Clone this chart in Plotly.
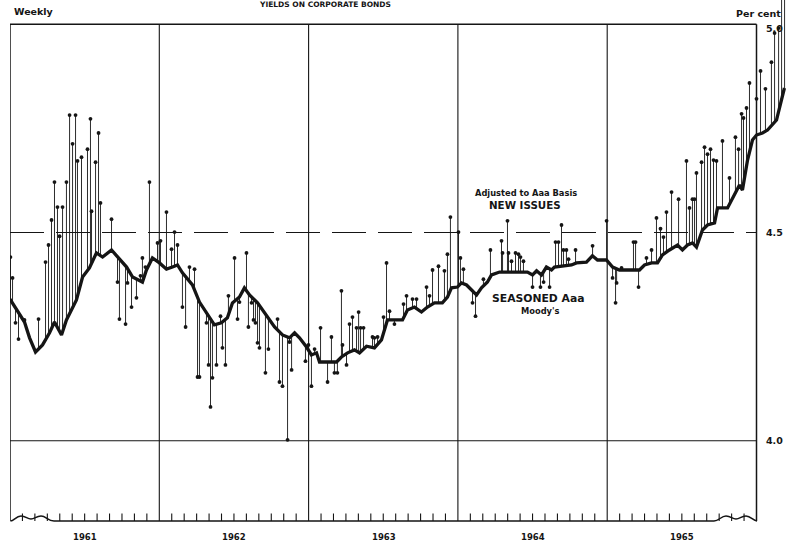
import numpy as np
import plotly.graph_objects as go

# ---------------- data ----------------
# Moody's seasoned Aaa corporate bond yield (weekly), per cent
seasoned_date = [
    1961.000, 1961.044, 1961.097, 1961.131, 1961.171, 1961.218, 1961.265, 1961.298, 1961.318, 1961.345,
    1961.378, 1961.445, 1961.486, 1961.532, 1961.579, 1961.620, 1961.680, 1961.720, 1961.781, 1961.821,
    1961.887, 1961.914, 1961.954, 1962.001, 1962.048, 1962.088, 1962.122, 1962.155, 1962.222, 1962.269,
    1962.316, 1962.369, 1962.416, 1962.456, 1962.490, 1962.537, 1962.570, 1962.604, 1962.658, 1962.705,
    1962.772, 1962.825, 1962.872, 1962.906, 1962.939, 1962.986, 1963.019, 1963.053, 1963.073, 1963.187,
    1963.220, 1963.261, 1963.307, 1963.341, 1963.388, 1963.441, 1963.488, 1963.528, 1963.629, 1963.662,
    1963.709, 1963.756, 1963.796, 1963.843, 1963.896, 1963.930, 1963.957, 1963.997, 1964.024, 1964.058,
    1964.091, 1964.125, 1964.158, 1964.198, 1964.225, 1964.279, 1964.466, 1964.500, 1964.527, 1964.560,
    1964.593, 1964.627, 1964.647, 1964.761, 1964.794, 1964.861, 1964.901, 1964.935, 1964.995, 1965.036,
    1965.082, 1965.216, 1965.250, 1965.297, 1965.337, 1965.370, 1965.417, 1965.471, 1965.504, 1965.538,
    1965.571, 1965.598, 1965.638, 1965.672, 1965.719, 1965.739, 1965.806, 1965.839, 1965.886, 1965.906,
    1965.940, 1965.973, 1966.000, 1966.040, 1966.074, 1966.134, 1966.187,
]
seasoned_yield = [
    4.340, 4.314, 4.285, 4.247, 4.213, 4.230, 4.259, 4.285, 4.273, 4.254,
    4.290, 4.338, 4.393, 4.415, 4.451, 4.441, 4.458, 4.441, 4.417, 4.393,
    4.381, 4.410, 4.439, 4.427, 4.412, 4.417, 4.422, 4.403, 4.374, 4.333,
    4.307, 4.278, 4.283, 4.295, 4.331, 4.345, 4.367, 4.350, 4.331, 4.307,
    4.273, 4.254, 4.247, 4.259, 4.247, 4.225, 4.206, 4.211, 4.189, 4.189,
    4.201, 4.211, 4.218, 4.211, 4.227, 4.223, 4.242, 4.290, 4.290, 4.314,
    4.321, 4.309, 4.321, 4.331, 4.331, 4.345, 4.367, 4.369, 4.379, 4.374,
    4.362, 4.350, 4.367, 4.381, 4.398, 4.405, 4.405, 4.398, 4.408, 4.398,
    4.417, 4.410, 4.417, 4.422, 4.427, 4.429, 4.444, 4.434, 4.434, 4.417,
    4.410, 4.410, 4.422, 4.427, 4.427, 4.446, 4.458, 4.470, 4.458, 4.470,
    4.475, 4.465, 4.506, 4.518, 4.523, 4.559, 4.559, 4.583, 4.614, 4.602,
    4.674, 4.722, 4.734, 4.739, 4.746, 4.770, 4.847,
]

# New issues, adjusted to Aaa basis (weekly), per cent
new_date = [
    1961.003, 1961.017, 1961.037, 1961.057, 1961.097, 1961.191, 1961.238, 1961.258, 1961.278, 1961.298,
    1961.318, 1961.332, 1961.352, 1961.378, 1961.399, 1961.419, 1961.439, 1961.452, 1961.479, 1961.519,
    1961.539, 1961.546, 1961.573, 1961.593, 1961.606, 1961.680, 1961.720, 1961.733, 1961.774, 1961.787,
    1961.814, 1961.847, 1961.874, 1961.887, 1961.907, 1961.934, 1961.988, 1962.008, 1962.048, 1962.082,
    1962.102, 1962.122, 1962.155, 1962.176, 1962.202, 1962.236, 1962.256, 1962.269, 1962.316, 1962.330,
    1962.343, 1962.356, 1962.383, 1962.410, 1962.423, 1962.443, 1962.463, 1962.504, 1962.524, 1962.537,
    1962.584, 1962.597, 1962.618, 1962.631, 1962.644, 1962.658, 1962.671, 1962.711, 1962.731, 1962.792,
    1962.805, 1962.825, 1962.859, 1962.872, 1962.886, 1962.979, 1962.999, 1963.019, 1963.040, 1963.080,
    1963.127, 1963.153, 1963.173, 1963.193, 1963.220, 1963.227, 1963.254, 1963.274, 1963.294, 1963.321,
    1963.335, 1963.348, 1963.368, 1963.428, 1963.441, 1963.462, 1963.502, 1963.522, 1963.542, 1963.575,
    1963.636, 1963.656, 1963.696, 1963.723, 1963.790, 1963.810, 1963.830, 1963.870, 1963.910, 1963.930,
    1963.950, 1964.004, 1964.017, 1964.037, 1964.098, 1964.118, 1964.171, 1964.218, 1964.292, 1964.299,
    1964.332, 1964.339, 1964.359, 1964.386, 1964.406, 1964.419, 1964.439, 1964.500, 1964.553, 1964.574,
    1964.614, 1964.654, 1964.674, 1964.694, 1964.707, 1964.727, 1964.741, 1964.788, 1964.902, 1964.996,
    1965.036, 1965.056, 1965.063, 1965.096, 1965.176, 1965.190, 1965.210, 1965.263, 1965.297, 1965.330,
    1965.357, 1965.377, 1965.397, 1965.431, 1965.478, 1965.531, 1965.551, 1965.571, 1965.585, 1965.598,
    1965.632, 1965.652, 1965.672, 1965.692, 1965.712, 1965.732, 1965.772, 1965.819, 1965.859, 1965.880,
    1965.900, 1965.913, 1965.933, 1965.953, 1966.000, 1966.027, 1966.060, 1966.100, 1966.121, 1966.148,
    1966.168, 1966.188,
]
new_yield = [
    4.441, 4.391, 4.283, 4.244, 4.290, 4.292, 4.429, 4.470, 4.530, 4.621,
    4.561, 4.491, 4.561, 4.621, 4.782, 4.713, 4.782, 4.672, 4.681, 4.700,
    4.773, 4.551, 4.669, 4.739, 4.571, 4.532, 4.381, 4.292, 4.280, 4.379,
    4.321, 4.343, 4.396, 4.439, 4.417, 4.621, 4.475, 4.480, 4.549, 4.460,
    4.501, 4.470, 4.321, 4.273, 4.417, 4.412, 4.153, 4.153, 4.283, 4.182,
    4.081, 4.151, 4.182, 4.299, 4.223, 4.182, 4.348, 4.439, 4.292, 4.333,
    4.451, 4.273, 4.331, 4.290, 4.283, 4.235, 4.223, 4.163, 4.220, 4.292,
    4.141, 4.131, 4.002, 4.237, 4.170, 4.191, 4.230, 4.131, 4.220, 4.271,
    4.141, 4.249, 4.163, 4.163, 4.360, 4.230, 4.182, 4.280, 4.297, 4.271,
    4.309, 4.271, 4.271, 4.249, 4.247, 4.249, 4.297, 4.427, 4.311, 4.280,
    4.328, 4.348, 4.340, 4.340, 4.369, 4.348, 4.410, 4.419, 4.408, 4.448,
    4.537, 4.501, 4.439, 4.412, 4.331, 4.299, 4.388, 4.458, 4.480, 4.451,
    4.528, 4.451, 4.431, 4.451, 4.448, 4.441, 4.431, 4.369, 4.369, 4.381,
    4.369, 4.477, 4.477, 4.518, 4.458, 4.458, 4.436, 4.458, 4.468, 4.528,
    4.391, 4.331, 4.379, 4.415, 4.477, 4.477, 4.369, 4.439, 4.458, 4.535,
    4.509, 4.489, 4.549, 4.597, 4.580, 4.672, 4.559, 4.580, 4.580, 4.643,
    4.669, 4.705, 4.688, 4.700, 4.674, 4.672, 4.720, 4.631, 4.729, 4.700,
    4.785, 4.775, 4.799, 4.859, 4.821, 4.888, 4.845, 4.909, 4.979, 4.991,
    5.070, 5.070,
]

years = [1961, 1962, 1963, 1964, 1965]
year_labels = ["1961", "1962", "1963", "1964", "1965"]
y_tick_values = [5.0, 4.5, 4.0]
y_tick_labels = ["5.0", "4.5", "4.0"]

# ---------------- geometry ----------------
W, H = 804, 547
ML, MR, MT, MB = 10, 4, 0, 14
PW, PH = W - ML - MR, H - MT - MB
PX_PER_YEAR = 149.3
PX_PER_PCT = 416.4
Y4_PIX = 440.7
X_RANGE = [1961.0, 1961.0 + PW / PX_PER_YEAR]
Y_RANGE = [4.0 - (MT + PH - Y4_PIX) / PX_PER_PCT, 4.0 + (Y4_PIX - MT) / PX_PER_PCT]


def fx(px):
    return X_RANGE[0] + (px - ML) / PX_PER_YEAR


def fy(py):
    return 4.0 + (Y4_PIX - py) / PX_PER_PCT


BASE = fy(521)
TOP = 5.0
X_END = 1966.0
INK = "#151515"

fig = go.Figure()

# stems from seasoned line to each new-issue dot
base_at_new = np.interp(new_date, seasoned_date, seasoned_yield)
sx, sy = [], []
for d, b, v in zip(new_date, base_at_new, new_yield):
    sx += [d, d, None]
    sy += [b, v, None]
fig.add_trace(go.Scatter(x=sx, y=sy, mode="lines", line=dict(color=INK, width=0.9),
                         hoverinfo="skip", showlegend=False))
fig.add_trace(go.Scatter(x=seasoned_date, y=seasoned_yield, mode="lines",
                         line=dict(color=INK, width=3.3), name="Seasoned Aaa",
                         showlegend=False))
fig.add_trace(go.Scatter(x=new_date, y=new_yield, mode="markers",
                         marker=dict(color=INK, size=3.8), name="New issues",
                         showlegend=False))

shapes = []
# frame
shapes.append(dict(type="line", x0=X_RANGE[0], x1=X_END, y0=TOP, y1=TOP, line=dict(color=INK, width=1.5)))
shapes.append(dict(type="line", x0=X_RANGE[0], x1=X_RANGE[0], y0=BASE, y1=TOP, line=dict(color=INK, width=1.5)))
shapes.append(dict(type="line", x0=X_END, x1=X_END, y0=BASE, y1=TOP, line=dict(color=INK, width=1.5)))
for yr in years[1:]:
    shapes.append(dict(type="line", x0=yr, x1=yr, y0=BASE, y1=TOP, line=dict(color=INK, width=1.1)))
# grid lines
shapes.append(dict(type="line", x0=X_RANGE[0], x1=X_END, y0=4.0, y1=4.0, line=dict(color=INK, width=1.1)))
shapes.append(dict(type="line", x0=X_RANGE[0], x1=X_END, y0=4.5, y1=4.5,
                   line=dict(color=INK, width=1.1, dash="34px,12px")))


# bottom axis with scale-break waves at both ends
def P(px, py):
    return f"{fx(px):.5f},{fy(py):.5f}"


left_wave = (f"M {P(10.5,521)} C {P(14,521)} {P(16,516)} {P(21,516)} "
             f"C {P(26,516)} {P(27,519)} {P(31,519)} "
             f"C {P(35,519)} {P(36,516)} {P(41,516)} "
             f"C {P(46,516)} {P(48,521)} {P(54,521)} ")
right_wave = (f"L {P(714,521)} C {P(719,521)} {P(721,516)} {P(726,516)} "
              f"C {P(731,516)} {P(732,519)} {P(736,519)} "
              f"C {P(740,519)} {P(741,516)} {P(746,516)} "
              f"C {P(751,516)} {P(753,521)} {P(757,521)}")
shapes.append(dict(type="path", path=left_wave + right_wave, line=dict(color=INK, width=1.5)))

# monthly ticks
for m in range(1, 60):
    if m % 12 == 0:
        continue
    xm = 1961 + m / 12
    shapes.append(dict(type="line", x0=xm, x1=xm, y0=BASE, y1=fy(513.5), line=dict(color=INK, width=1.1)))

annotations = []
FONT = "DejaVu Sans"


def txt(text, px, py, size, xanchor="center"):
    # positions given in page pixels, converted to paper coordinates
    annotations.append(dict(text=text, x=(px - ML) / PW, y=(MT + PH - py) / PH,
                            xref="paper", yref="paper", showarrow=False,
                            xanchor=xanchor, yanchor="middle",
                            font=dict(family=FONT, size=size, color=INK, weight="bold")))


txt("YIELDS ON CORPORATE BONDS", 325, 4.5, 7.5)
txt("Weekly", 12, 11, 9.5, xanchor="left")
txt("Per cent", 734, 14, 9.5, xanchor="left")
for v, lab in zip(y_tick_values, y_tick_labels):
    py = Y4_PIX - (v - 4.0) * PX_PER_PCT
    txt(lab, 774, py + (4 if v == 5.0 else 0), 9.5)
for yr, lab in zip(years, year_labels):
    txt(lab, ML + 0.5 + (yr - 1961 + 0.5) * PX_PER_YEAR, 537, 8.5)
txt("Adjusted to Aaa Basis", 526, 193, 8.3)
txt("NEW ISSUES", 525, 205, 10.3)
txt("SEASONED Aaa", 538, 298, 10.8)
txt("Moody's", 540, 311, 8.3)

fig.update_layout(
    width=W, height=H,
    margin=dict(l=ML, r=MR, t=MT, b=MB, pad=0),
    paper_bgcolor="white", plot_bgcolor="white",
    xaxis=dict(range=X_RANGE, visible=False, fixedrange=True),
    yaxis=dict(range=Y_RANGE, visible=False, fixedrange=True),
    shapes=shapes, annotations=annotations, showlegend=False,
)

fig.write_html("out.html", config={"displayModeBar": False},
               post_script="document.body.style.margin='0px';document.body.style.padding='0px';")
